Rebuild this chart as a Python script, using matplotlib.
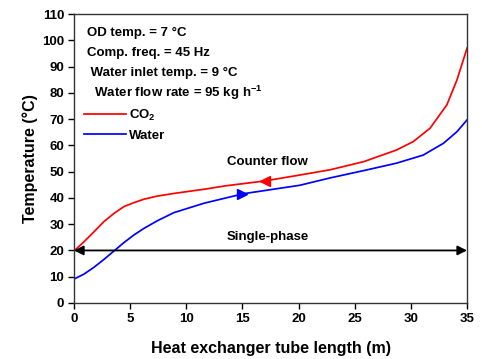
import matplotlib.pyplot as plt

plt.rcParams['font.family'] = ['Liberation Sans', 'DejaVu Sans']
plt.rcParams['font.weight'] = 'bold'
plt.rcParams['axes.labelweight'] = 'bold'

# values
co2_x = [0, 0.89, 1.78, 2.67, 3.56, 4.45, 5.34, 6.23, 7.42, 8.9, 10.4, 11.6,
         13.5, 16.9, 20.1, 22.8, 25.8, 28.7, 30.2, 31.7, 33.2, 34.1, 35]
co2_t = [19.8, 23.3, 27.1, 31.0, 34.1, 36.7, 38.2, 39.5, 40.7, 41.7, 42.6, 43.3,
         44.6, 46.4, 48.7, 50.7, 53.8, 58.2, 61.4, 66.5, 75.4, 84.9, 97.0]
water_x = [0, 0.89, 1.78, 2.67, 3.56, 4.45, 5.34, 6.23, 7.42, 8.9, 10.4, 11.6,
           15.1, 20.1, 22.8, 25.8, 28.7, 31.1, 32.9, 34.1, 35]
water_t = [9.1, 11.0, 13.6, 16.6, 19.8, 23.0, 25.9, 28.4, 31.3, 34.4, 36.4, 38.0,
           41.6, 44.8, 47.6, 50.4, 53.2, 56.3, 60.8, 65.2, 69.7]

co2_arrow = (17, 46.5)
water_arrow = (15, 41.5)

x_ticks = [0, 5, 10, 15, 20, 25, 30, 35]
y_ticks = list(range(0, 111, 10))

info_lines = ['OD temp. = 7 \u00b0C',
              'Comp. freq. = 45 Hz',
              ' Water inlet temp. = 9 \u00b0C',
              '  Water flow rate = 95 kg h$^\\mathregular{-1}$']

fig = plt.figure(figsize=(4.82, 3.59), dpi=100)
ax = fig.add_axes([0.1535, 0.156, 0.8155, 0.805])

ax.plot(co2_x, co2_t, color='red', lw=1.25, label='CO$_\\mathregular{2}$')
ax.plot(water_x, water_t, color='blue', lw=1.25, label='Water')
ax.plot(*co2_arrow, marker='<', color='red', ms=7)
ax.plot(*water_arrow, marker='>', color='blue', ms=7)

ax.annotate('', xy=(0, 20), xytext=(35, 20),
            arrowprops=dict(arrowstyle='<|-|>', color='black', lw=1.3,
                            mutation_scale=14, shrinkA=0, shrinkB=0))
ax.text(17.3, 25, 'Single-phase', ha='center', va='center', fontsize=9.5)
ax.text(17.2, 53.8, 'Counter flow', ha='center', va='center', fontsize=9.5)

for i, s in enumerate(info_lines):
    ax.text(0.033, 0.934 - i * 0.069, s, transform=ax.transAxes,
            ha='left', va='center', fontsize=9.5)

ax.legend(loc='upper left', bbox_to_anchor=(0.012, 0.695), frameon=False,
          fontsize=9.5, handlelength=3.2, handletextpad=0.2, labelspacing=0.55,
          borderaxespad=0)

ax.set_xlim(0, 35)
ax.set_ylim(0, 110)
ax.set_xticks(x_ticks)
ax.set_yticks(y_ticks)
ax.tick_params(direction='out', length=4, width=1, labelsize=9.5, pad=3)
for lab in ax.get_xticklabels() + ax.get_yticklabels():
    lab.set_fontweight('bold')
for sp in ax.spines.values():
    sp.set_linewidth(1)
    sp.set_color('#333333')

ax.set_xlabel('Heat exchanger tube length (m)', fontsize=11.5, labelpad=12)
ax.set_ylabel('Temperature (\u00b0C)', fontsize=11.5, labelpad=3)

fig.savefig('out.png', dpi=100)
